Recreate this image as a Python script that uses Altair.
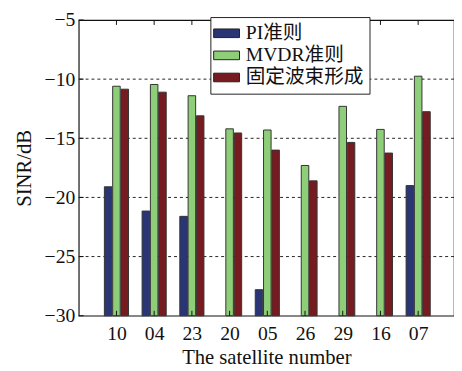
import altair as alt
import pandas as pd

satellites = ["10", "04", "23", "20", "05", "26", "29", "16", "07"]
series = ["PI准则", "MVDR准则", "固定波束形成"]
pi_vals = [-19.1, -21.15, -21.6, None, -27.8, None, None, None, -19.0]
mvdr_vals = [-10.6, -10.45, -11.4, -14.2, -14.3, -17.3, -12.3, -14.25, -9.75]
fixed_vals = [-10.85, -11.1, -13.1, -14.55, -16.0, -18.6, -15.35, -16.25, -12.75]
colors = ["#2a3575", "#8fce78", "#761c20"]
y_ticks = [-30, -25, -20, -15, -10, -5]

offsets = [-0.22, 0.0, 0.22]
half_w = 0.1

rows = []
for si, (name, vals) in enumerate(zip(series, [pi_vals, mvdr_vals, fixed_vals])):
    for i, v in enumerate(vals):
        if v is None:
            continue
        c = i + 1 + offsets[si]
        rows.append({"series": name, "order": si, "x": c - half_w, "x2": c + half_w,
                     "value": v, "base": -30})
df = pd.DataFrame(rows)

label_expr = "[" + ",".join("'%s'" % s for s in satellites) + "][datum.value - 1]"
FONT = "Liberation Serif, Noto Sans CJK SC"
H = 301

x_scale = alt.Scale(domain=[0, 9.95], nice=False, zero=False)
y_scale = alt.Scale(domain=[-30, -5], nice=False, zero=False)

grid = alt.Chart(pd.DataFrame({"g": [-25, -20, -15, -10]})).mark_rule(
    color="#222", strokeDash=[3, 3], strokeWidth=1
).encode(y=alt.Y("g:Q", scale=y_scale))

# inward tick marks (MATLAB style)
xt = pd.DataFrame({"t": list(range(1, 10))})
xticks_bottom = alt.Chart(xt).mark_rule(color="#111").encode(
    x=alt.X("t:Q", scale=x_scale), y=alt.value(H), y2=alt.value(H - 5))
xticks_top = alt.Chart(xt).mark_rule(color="#111").encode(
    x=alt.X("t:Q", scale=x_scale), y=alt.value(0), y2=alt.value(5))
yt = pd.DataFrame({"t": y_ticks})
yticks_left = alt.Chart(yt).mark_rule(color="#111").encode(
    y=alt.Y("t:Q", scale=y_scale), x=alt.value(0), x2=alt.value(5))

bars = alt.Chart(df).mark_bar(stroke="#333", strokeWidth=1).encode(
    x=alt.X("x:Q", scale=x_scale,
            axis=alt.Axis(values=list(range(1, 10)), labelExpr=label_expr,
                          title="The satellite number", grid=False,
                          ticks=False, labelPadding=8, domain=False)),
    x2="x2:Q",
    y=alt.Y("value:Q", scale=y_scale,
            axis=alt.Axis(values=y_ticks, title="SINR/dB", grid=False,
                          ticks=False, labelPadding=4, domain=False)),
    y2="base:Q",
    color=alt.Color("series:N", sort=series,
                    scale=alt.Scale(domain=series, range=colors),
                    legend=alt.Legend(
                        orient="none", legendX=134, legendY=-3, title=None,
                        symbolType="M-1.35,-0.45L1.35,-0.45L1.35,0.45L-1.35,0.45Z",
                        symbolSize=380, symbolStrokeColor="#222", symbolStrokeWidth=1,
                        symbolOpacity=1,
                        labelFont=FONT, labelFontSize=20, labelColor="#111",
                        labelOffset=9, rowPadding=1.5,
                        strokeColor="#222", fillColor="white", padding=6,
                        cornerRadius=0)),
    order="order:Q",
)

chart = alt.layer(grid, bars, xticks_bottom, xticks_top, yticks_left).properties(
    width=382, height=H,
    autosize=alt.AutoSizeParams(type="none"),
    padding={"left": 72, "top": 9, "right": 0, "bottom": 50},
).configure_view(stroke="#111", strokeWidth=1.2).configure_axis(
    labelFont=FONT, titleFont=FONT, labelFontSize=20, titleFontSize=21,
    labelColor="#111", titleColor="#111", titleFontWeight="normal",
).configure_axisX(titlePadding=4).configure_axisY(titlePadding=10)

chart.save("out.html", embed_options={"renderer": "svg", "actions": False})
